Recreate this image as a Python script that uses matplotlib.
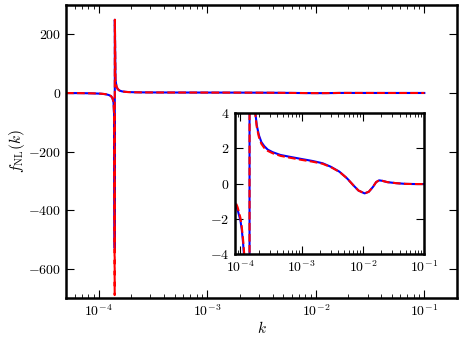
import matplotlib
matplotlib.use("Agg")
import matplotlib.pyplot as plt

plt.rcParams['font.family'] = 'serif'
plt.rcParams['font.serif'] = ['cmr10']
plt.rcParams['mathtext.fontset'] = 'cm'
plt.rcParams['axes.formatter.use_mathtext'] = True

# k values and f_NL
k = [5e-5, 6e-5, 7e-5, 8e-5, 9e-5, 1.0e-4, 1.05e-4, 1.1e-4, 1.15e-4, 1.2e-4,
     1.25e-4, 1.3e-4, 1.34e-4, 1.37e-4, 1.39e-4, 1.405e-4, 1.41e-4, 1.43e-4,
     1.46e-4, 1.5e-4, 1.56e-4, 1.65e-4, 1.76e-4, 1.85e-4, 2.0e-4, 2.2e-4,
     2.45e-4, 2.8e-4, 3.35e-4, 4.5e-4, 6.3e-4, 1e-3, 1.5e-3, 2.2e-3, 3e-3,
     4.15e-3, 5.5e-3, 7e-3, 8.5e-3, 1.07e-2, 1.25e-2, 1.46e-2, 1.65e-2,
     1.85e-2, 2.1e-2, 2.5e-2, 3.5e-2, 5e-2, 7e-2, 0.1]
f_full = [-0.3, -0.45, -0.65, -1.0, -1.5, -2.1, -2.6, -3.3, -4.2, -5.5,
          -7.5, -11, -18, -32, -80, -530, 250, 45,
          22, 13, 8, 5.3, 3.95, 3.3, 2.75, 2.35,
          2.12, 1.92, 1.78, 1.62, 1.52, 1.39, 1.28, 1.15, 0.95,
          0.67, 0.3, -0.1, -0.4, -0.56, -0.47, -0.2, 0.08,
          0.18, 0.15, 0.08, 0.02, -0.02, -0.03, -0.03]
f_approx = [-0.25, -0.4, -0.6, -0.9, -1.35, -1.95, -2.45, -3.1, -3.95, -5.2,
            -7.2, -10.5, -17, -30, -78, -690, 250, 45,
            22, 13, 8, 5.2, 3.85, 3.2, 2.65, 2.25,
            2.02, 1.85, 1.72, 1.57, 1.47, 1.34, 1.24, 1.12, 0.93,
            0.66, 0.3, -0.1, -0.4, -0.56, -0.47, -0.2, 0.08,
            0.18, 0.15, 0.08, 0.02, -0.02, -0.03, -0.03]
main_yticks = [-600, -400, -200, 0, 200]
inset_yticks = [-4, -2, 0, 2, 4]


def style(ax):
    ax.tick_params(which='both', direction='in', top=True, right=True)
    ax.tick_params(which='major', length=6, width=0.8)
    ax.tick_params(which='minor', length=3, width=0.6)
    for s in ax.spines.values():
        s.set_linewidth(1.8)


fig = plt.figure(figsize=(4.63, 3.40), dpi=100)
ax = fig.add_axes([0.1425, 0.1235, 0.8445, 0.8615])
ax.semilogx(k, f_full, 'b-', lw=1.5)
ax.semilogx(k, f_approx, 'r--', lw=1.5)
ax.set_xlim(5e-5, 0.2)
ax.set_ylim(-700, 300)
ax.set_yticks(main_yticks)
ax.set_xlabel(r'$k$', fontsize=11, labelpad=1)
ax.set_ylabel(r'$f_{\rm NL}(k)$', fontsize=11, labelpad=1)
ax.tick_params(labelsize=10)
style(ax)

ins = fig.add_axes([0.5065, 0.2529, 0.4093, 0.4147])
ins.semilogx(k, f_full, 'b-', lw=1.5)
ins.semilogx(k, f_approx, 'r--', lw=1.5)
ins.set_xlim(8e-5, 0.1)
ins.set_ylim(-4, 4)
ins.set_yticks(inset_yticks)
ins.tick_params(labelsize=10)
style(ins)

fig.savefig('out.png', dpi=100)
